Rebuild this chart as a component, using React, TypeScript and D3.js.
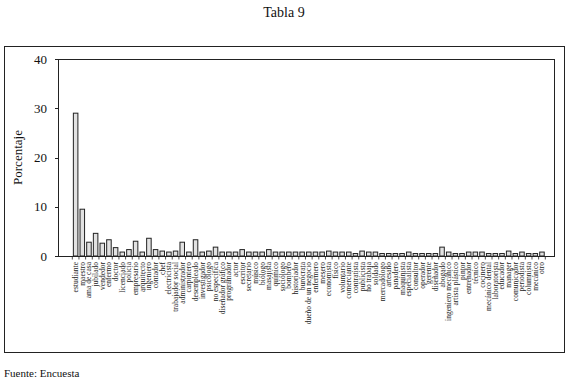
import React from "react";
import * as d3 from "d3";

const categories: string[] = [
  "estudiante", "maestro", "ama de casa", "jubilado", "vendedor", "enfermo", "doctor",
  "licenciado", "policía", "empresario", "arquitecto", "ingeniero", "contador", "chef",
  "electricista", "trabajador social", "administrador", "carpintero", "desempleado",
  "investigador", "psicólogo", "no especifica", "diseñador gráfico", "programador", "actor",
  "escritor", "secretario", "músico", "biólogo", "masajista", "químico", "sociólogo",
  "bombero", "historiador", "burócrata", "dueño de un negocio", "enfermero", "mesero",
  "economista", "físico", "voluntario", "comerciante", "contratista", "publicista",
  "no trabaja", "soldado", "mercadólogo", "artesano", "panadero", "maquinista",
  "especialista", "consultor", "operador", "gerente", "diseñador", "abogado",
  "ingeniero mecánico", "artista plástico", "pintor", "entrenador", "técnico", "cocinero",
  "mecánico dental", "laboratorista", "educador", "manager", "comunicador", "periodista",
  "columnista", "mecánico", "otro",
];

const values: number[] = [
  29, 9.5, 2.8, 4.6, 2.6, 3.3, 1.7, 0.8, 1.3, 3.0, 0.8, 3.6, 1.3, 1.0,
  0.8, 1.0, 2.8, 0.8, 3.3, 0.8, 1.0, 1.8, 0.8, 0.8, 0.8, 1.3, 0.8, 0.8,
  0.8, 1.3, 0.8, 0.8, 0.8, 0.8, 0.8, 0.8, 0.8, 0.8, 1.0, 0.8, 0.8, 0.8,
  0.5, 1.0, 0.8, 0.8, 0.5, 0.5, 0.5, 0.5, 0.8, 0.5, 0.5, 0.5, 0.5, 1.8,
  0.8, 0.5, 0.5, 0.8, 0.8, 0.8, 0.5, 0.5, 0.5, 1.0, 0.5, 0.8, 0.5, 0.5, 0.8,
];

const yTicks: number[] = [0, 10, 20, 30, 40];

const title = "Tabla 9";
const yTitle = "Porcentaje";
const source = "Fuente: Encuesta";

export default function App() {
  const W = 569;
  const H = 381;
  const plotL = 58, plotR = 554, plotT = 59, plotB = 256;
  const x = d3.scaleBand<string>().domain(categories).range([72.3, 545.3]).paddingInner(0.32).paddingOuter(0.16);
  const y = d3.scaleLinear().domain([0, 40]).range([plotB, plotT]);
  const font = "'Liberation Serif', 'Times New Roman', serif";
  const step = x.step();
  const bounds = d3.range(categories.length + 1).map((i) => x.range()[0] + i * step);

  return (
    <svg width={W} height={H} style={{ position: "absolute", left: 0, top: 0, background: "#fff" }} fontFamily={font}>
      <rect x={0} y={0} width={W} height={H} fill="#fff" />
      <text x={284} y={17} textAnchor="middle" fontSize={14} fill="#111">{title}</text>
      <rect x={4.5} y={46.5} width={560} height={306} fill="none" stroke="#222" strokeWidth={1} />
      <rect x={plotL + 0.5} y={plotT + 0.5} width={plotR - plotL} height={plotB - plotT} fill="none" stroke="#222" strokeWidth={1} />
      {yTicks.map((t) => (
        <g key={t}>
          <line x1={plotL - 3} x2={plotL + 0.5} y1={Math.round(y(t)) + 0.5} y2={Math.round(y(t)) + 0.5} stroke="#222" />
          <text x={47} y={y(t) + 4.5} textAnchor="end" fontSize={13} fill="#111">{t}</text>
        </g>
      ))}
      <text transform={`translate(22,${(plotT + plotB) / 2}) rotate(-90)`} textAnchor="middle" fontSize={13} fill="#111">{yTitle}</text>
      {categories.map((c, i) => (
        <rect key={c} x={x(c)} y={y(values[i])} width={x.bandwidth()} height={plotB - y(values[i])}
          fill="#e2e2e2" stroke="#222" strokeWidth={1} />
      ))}
      <line x1={plotL} x2={plotR} y1={plotB + 0.5} y2={plotB + 0.5} stroke="#222" strokeWidth={1.2} />
      {bounds.map((b, i) => (
        <line key={i} x1={b} x2={b} y1={plotB} y2={plotB + 3.5} stroke="#222" strokeWidth={0.8} />
      ))}
      {categories.map((c) => (
        <text key={c} transform={`translate(${(x(c) as number) + x.bandwidth() / 2 + 2.5},${plotB + 6}) rotate(-90)`}
          textAnchor="end" fontSize={7.5} fill="#222">{c}</text>
      ))}
      <text x={4} y={377} fontSize={11} fill="#111">{source}</text>
    </svg>
  );
}
